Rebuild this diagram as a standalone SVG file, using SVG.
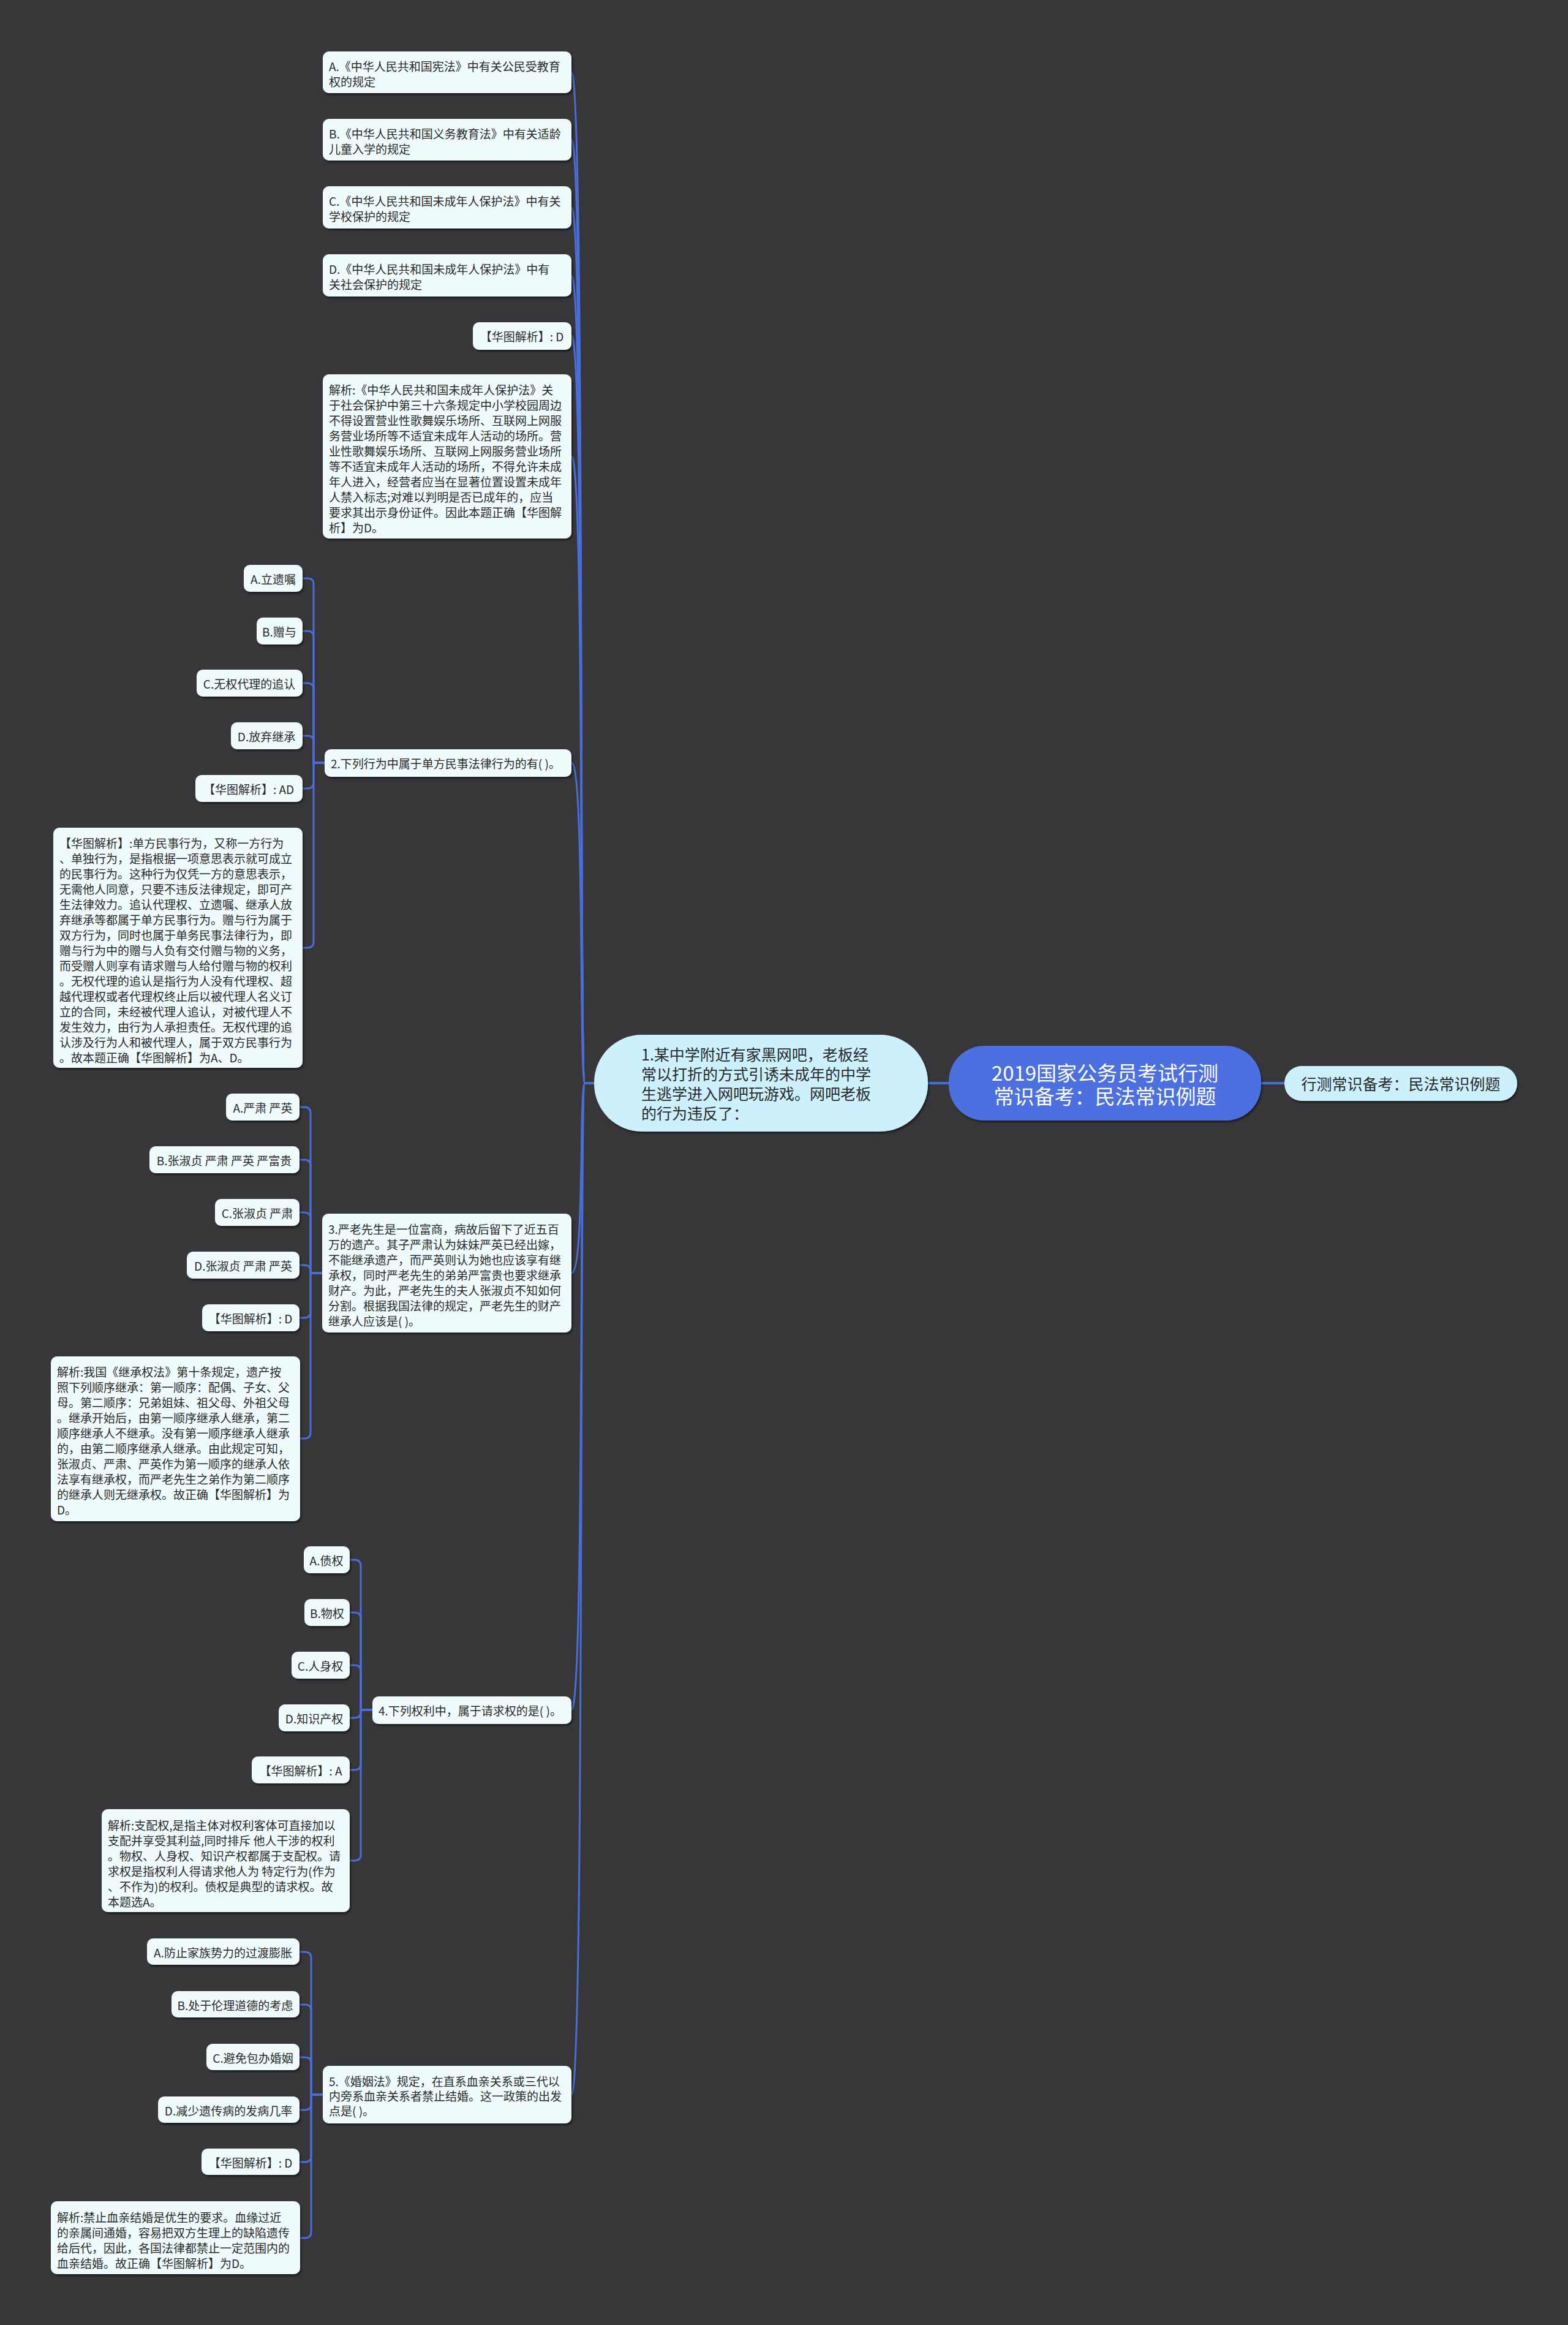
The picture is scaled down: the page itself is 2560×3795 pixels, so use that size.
<svg xmlns="http://www.w3.org/2000/svg" width="2560" height="3795" viewBox="0 0 2560 3795">
<defs>
<filter id="sh" x="-5%" y="-5%" width="110%" height="120%"><feDropShadow dx="2" dy="3" stdDeviation="1.5" flood-color="#000" flood-opacity="0.45"/></filter>
<style>
.leaf{fill:#effafc;filter:url(#sh)}
.sub{fill:#cdf0fd;filter:url(#sh)}
.root{fill:#4d6fe0;filter:url(#sh)}
.t{font-family:"Noto Sans CJK SC","Noto Sans",sans-serif;font-size:19px;fill:#2a2a2a;dominant-baseline:central}
.m{text-anchor:middle}
.big{font-size:25px}
.rt{font-size:33px;fill:#ffffff}
.c{fill:none;stroke:#4a6ddc;stroke-width:3;stroke-linecap:round}
.cm{fill:none;stroke:#4a6ddc;stroke-width:4}
</style>
</defs>
<rect width="2560" height="3795" fill="#373638"/>

<g id="connectors">
<path class="cm" d="M2059 1768 H2097"/>
<path class="cm" d="M1515 1768 H1549"/>
<path class="c" d="M970 1768 H955 C945 1768 955 118 933 118"/>
<path class="c" d="M970 1768 H955 C945 1768 955 228 933 228"/>
<path class="c" d="M970 1768 H955 C945 1768 955 339 933 339"/>
<path class="c" d="M970 1768 H955 C945 1768 955 450 933 450"/>
<path class="c" d="M970 1768 H955 C945 1768 955 548 933 548"/>
<path class="c" d="M970 1768 H955 C945 1768 955 745 933 745"/>
<path class="c" d="M970 1768 H955 C945 1768 955 1245 933 1245"/>
<path class="c" d="M970 1768 H955 C945 1768 955 2078 933 2078"/>
<path class="c" d="M970 1768 H955 C945 1768 955 2791 933 2791"/>
<path class="c" d="M970 1768 H955 C945 1768 955 3419 933 3419"/>

<path class="c" d="M530 1245 H512 V954 Q512 944 502 944 H494"/>
<path class="c" d="M530 1245 H512 V1040 Q512 1030 502 1030 H494"/>
<path class="c" d="M530 1245 H512 V1125 Q512 1115 502 1115 H494"/>
<path class="c" d="M530 1245 H512 V1211 Q512 1201 502 1201 H494"/>
<path class="c" d="M530 1245 H512 V1277 Q512 1287 502 1287 H494"/>
<path class="c" d="M530 1245 H512 V1537 Q512 1547 502 1547 H494"/>

<path class="c" d="M526 2078 H507 V1817 Q507 1807 497 1807 H489"/>
<path class="c" d="M526 2078 H507 V1903 Q507 1893 497 1893 H489"/>
<path class="c" d="M526 2078 H507 V1989 Q507 1979 497 1979 H489"/>
<path class="c" d="M526 2078 H507 V2075 Q507 2065 497 2065 H489"/>
<path class="c" d="M526 2078 H507 V2141 Q507 2151 497 2151 H489"/>
<path class="c" d="M526 2078 H507 V2338 Q507 2348 497 2348 H489"/>

<path class="c" d="M608 2791 H589 V2556 Q589 2546 579 2546 H571"/>
<path class="c" d="M608 2791 H589 V2642 Q589 2632 579 2632 H571"/>
<path class="c" d="M608 2791 H589 V2728 Q589 2718 579 2718 H571"/>
<path class="c" d="M608 2791 H589 V2794 Q589 2804 579 2804 H571"/>
<path class="c" d="M608 2791 H589 V2879 Q589 2889 579 2889 H571"/>
<path class="c" d="M608 2791 H589 V3027 Q589 3037 579 3037 H571"/>

<path class="c" d="M527 3419 H508 V3196 Q508 3186 498 3186 H489"/>
<path class="c" d="M527 3419 H508 V3282 Q508 3272 498 3272 H489"/>
<path class="c" d="M527 3419 H508 V3368 Q508 3358 498 3358 H489"/>
<path class="c" d="M527 3419 H508 V3434 Q508 3444 498 3444 H489"/>
<path class="c" d="M527 3419 H508 V3519 Q508 3529 498 3529 H489"/>
<path class="c" d="M527 3419 H508 V3643 Q508 3653 498 3653 H489"/>
</g>

<g id="root">
<rect class="root" x="1549" y="1707" width="510" height="122" rx="58"/>
<text class="t rt m" x="1804"><tspan x="1804" y="1750">2019国家公务员考试行测</tspan><tspan x="1804" y="1788">常识备考：民法常识例题</tspan></text>
</g>
<g id="topic-right">
<rect class="sub" x="2097" y="1740" width="380" height="57" rx="28"/>
<text class="t big m" x="2287" y="1768">行测常识备考：民法常识例题</text>
</g>
<g id="q1">
<rect class="sub" x="970" y="1689" width="545" height="158" rx="78"/>
<text class="t big"><tspan x="1047" y="1720">1.某中学附近有家黑网吧，老板经</tspan><tspan x="1047" y="1752">常以打折的方式引诱未成年的中学</tspan><tspan x="1047" y="1784">生逃学进入网吧玩游戏。网吧老板</tspan><tspan x="1047" y="1816">的行为违反了：</tspan></text>
</g>

<g id="q1-a">
<rect class="leaf" x="527" y="84" width="406" height="68" rx="10"/>
<text class="t"><tspan x="537" y="107">A.《中华人民共和国宪法》中有关公民受教育</tspan><tspan x="537" y="132">权的规定</tspan></text>
</g>
<g id="q1-b">
<rect class="leaf" x="527" y="194" width="406" height="68" rx="10"/>
<text class="t"><tspan x="537" y="217">B.《中华人民共和国义务教育法》中有关适龄</tspan><tspan x="537" y="242">儿童入学的规定</tspan></text>
</g>
<g id="q1-c">
<rect class="leaf" x="527" y="304" width="406" height="69" rx="10"/>
<text class="t"><tspan x="537" y="327">C.《中华人民共和国未成年人保护法》中有关</tspan><tspan x="537" y="352">学校保护的规定</tspan></text>
</g>
<g id="q1-d">
<rect class="leaf" x="527" y="415" width="406" height="69" rx="10"/>
<text class="t"><tspan x="537" y="438">D.《中华人民共和国未成年人保护法》中有</tspan><tspan x="537" y="463">关社会保护的规定</tspan></text>
</g>
<g id="q1-ans">
<rect class="leaf" x="772" y="526" width="161" height="45" rx="10"/>
<text class="t m" x="852" y="548">【华图解析】: D</text>
</g>
<g id="q1-exp">
<rect class="leaf" x="527" y="611" width="406" height="268" rx="10"/>
<text class="t"><tspan x="537" y="635">解析:《中华人民共和国未成年人保护法》关</tspan><tspan x="537" y="660">于社会保护中第三十六条规定中小学校园周边</tspan><tspan x="537" y="685">不得设置营业性歌舞娱乐场所、互联网上网服</tspan><tspan x="537" y="710">务营业场所等不适宜未成年人活动的场所。营</tspan><tspan x="537" y="735">业性歌舞娱乐场所、互联网上网服务营业场所</tspan><tspan x="537" y="760">等不适宜未成年人活动的场所，不得允许未成</tspan><tspan x="537" y="785">年人进入，经营者应当在显著位置设置未成年</tspan><tspan x="537" y="810">人禁入标志;对难以判明是否已成年的，应当</tspan><tspan x="537" y="835">要求其出示身份证件。因此本题正确【华图解</tspan><tspan x="537" y="860">析】为D。</tspan></text>
</g>

<g id="q2">
<rect class="leaf" x="530" y="1223" width="403" height="45" rx="10"/>
<text class="t" x="540" y="1245">2.下列行为中属于单方民事法律行为的有( )。</text>
</g>
<g id="q2-a"><rect class="leaf" x="398" y="922" width="96" height="44" rx="10"/><text class="t m" x="446" y="944">A.立遗嘱</text></g>
<g id="q2-b"><rect class="leaf" x="419" y="1008" width="75" height="44" rx="10"/><text class="t m" x="456" y="1030">B.赠与</text></g>
<g id="q2-c"><rect class="leaf" x="321" y="1093" width="173" height="44" rx="10"/><text class="t m" x="407" y="1115">C.无权代理的追认</text></g>
<g id="q2-d"><rect class="leaf" x="377" y="1179" width="117" height="44" rx="10"/><text class="t m" x="435" y="1201">D.放弃继承</text></g>
<g id="q2-ans"><rect class="leaf" x="319" y="1265" width="175" height="44" rx="10"/><text class="t m" x="406" y="1287">【华图解析】: AD</text></g>
<g id="q2-exp">
<rect class="leaf" x="87" y="1351" width="407" height="392" rx="10"/>
<text class="t"><tspan x="97" y="1375">【华图解析】:单方民事行为，又称一方行为</tspan><tspan x="97" y="1400">、单独行为，是指根据一项意思表示就可成立</tspan><tspan x="97" y="1425">的民事行为。这种行为仅凭一方的意思表示，</tspan><tspan x="97" y="1450">无需他人同意，只要不违反法律规定，即可产</tspan><tspan x="97" y="1475">生法律效力。追认代理权、立遗嘱、继承人放</tspan><tspan x="97" y="1500">弃继承等都属于单方民事行为。赠与行为属于</tspan><tspan x="97" y="1525">双方行为，同时也属于单务民事法律行为，即</tspan><tspan x="97" y="1550">赠与行为中的赠与人负有交付赠与物的义务，</tspan><tspan x="97" y="1575">而受赠人则享有请求赠与人给付赠与物的权利</tspan><tspan x="97" y="1600">。无权代理的追认是指行为人没有代理权、超</tspan><tspan x="97" y="1625">越代理权或者代理权终止后以被代理人名义订</tspan><tspan x="97" y="1650">立的合同，未经被代理人追认，对被代理人不</tspan><tspan x="97" y="1675">发生效力，由行为人承担责任。无权代理的追</tspan><tspan x="97" y="1700">认涉及行为人和被代理人，属于双方民事行为</tspan><tspan x="97" y="1725">。故本题正确【华图解析】为A、D。</tspan></text>
</g>

<g id="q3">
<rect class="leaf" x="526" y="1981" width="407" height="194" rx="10"/>
<text class="t"><tspan x="536" y="2005">3.严老先生是一位富商，病故后留下了近五百</tspan><tspan x="536" y="2030">万的遗产。其子严肃认为妹妹严英已经出嫁，</tspan><tspan x="536" y="2055">不能继承遗产，而严英则认为她也应该享有继</tspan><tspan x="536" y="2080">承权，同时严老先生的弟弟严富贵也要求继承</tspan><tspan x="536" y="2105">财产。为此，严老先生的夫人张淑贞不知如何</tspan><tspan x="536" y="2130">分割。根据我国法律的规定，严老先生的财产</tspan><tspan x="536" y="2155">继承人应该是( )。</tspan></text>
</g>
<g id="q3-a"><rect class="leaf" x="369" y="1785" width="120" height="44" rx="10"/><text class="t m" x="429" y="1807">A.严肃 严英</text></g>
<g id="q3-b"><rect class="leaf" x="244" y="1871" width="245" height="44" rx="10"/><text class="t m" x="366" y="1893">B.张淑贞 严肃 严英 严富贵</text></g>
<g id="q3-c"><rect class="leaf" x="351" y="1957" width="138" height="44" rx="10"/><text class="t m" x="420" y="1979">C.张淑贞 严肃</text></g>
<g id="q3-d"><rect class="leaf" x="305" y="2043" width="184" height="44" rx="10"/><text class="t m" x="397" y="2065">D.张淑贞 严肃 严英</text></g>
<g id="q3-ans"><rect class="leaf" x="330" y="2129" width="159" height="44" rx="10"/><text class="t m" x="409" y="2151">【华图解析】: D</text></g>
<g id="q3-exp">
<rect class="leaf" x="83" y="2214" width="407" height="269" rx="10"/>
<text class="t"><tspan x="93" y="2238">解析:我国《继承权法》第十条规定，遗产按</tspan><tspan x="93" y="2263">照下列顺序继承：第一顺序：配偶、子女、父</tspan><tspan x="93" y="2288">母。第二顺序：兄弟姐妹、祖父母、外祖父母</tspan><tspan x="93" y="2313">。继承开始后，由第一顺序继承人继承，第二</tspan><tspan x="93" y="2338">顺序继承人不继承。没有第一顺序继承人继承</tspan><tspan x="93" y="2363">的，由第二顺序继承人继承。由此规定可知，</tspan><tspan x="93" y="2388">张淑贞、严肃、严英作为第一顺序的继承人依</tspan><tspan x="93" y="2413">法享有继承权，而严老先生之弟作为第二顺序</tspan><tspan x="93" y="2438">的继承人则无继承权。故正确【华图解析】为</tspan><tspan x="93" y="2463">D。</tspan></text>
</g>

<g id="q4">
<rect class="leaf" x="608" y="2769" width="325" height="45" rx="10"/>
<text class="t" x="618" y="2791">4.下列权利中，属于请求权的是( )。</text>
</g>
<g id="q4-a"><rect class="leaf" x="496" y="2524" width="75" height="44" rx="10"/><text class="t m" x="533" y="2546">A.债权</text></g>
<g id="q4-b"><rect class="leaf" x="497" y="2610" width="74" height="44" rx="10"/><text class="t m" x="534" y="2632">B.物权</text></g>
<g id="q4-c"><rect class="leaf" x="476" y="2696" width="95" height="44" rx="10"/><text class="t m" x="523" y="2718">C.人身权</text></g>
<g id="q4-d"><rect class="leaf" x="455" y="2782" width="116" height="44" rx="10"/><text class="t m" x="513" y="2804">D.知识产权</text></g>
<g id="q4-ans"><rect class="leaf" x="411" y="2867" width="160" height="44" rx="10"/><text class="t m" x="491" y="2889">【华图解析】: A</text></g>
<g id="q4-exp">
<rect class="leaf" x="166" y="2953" width="405" height="168" rx="10"/>
<text class="t"><tspan x="176" y="2978">解析:支配权,是指主体对权利客体可直接加以</tspan><tspan x="176" y="3003">支配并享受其利益,同时排斥 他人干涉的权利</tspan><tspan x="176" y="3028">。物权、人身权、知识产权都属于支配权。请</tspan><tspan x="176" y="3053">求权是指权利人得请求他人为 特定行为(作为</tspan><tspan x="176" y="3078">、不作为)的权利。债权是典型的请求权。故</tspan><tspan x="176" y="3103">本题选A。</tspan></text>
</g>

<g id="q5">
<rect class="leaf" x="527" y="3372" width="406" height="94" rx="10"/>
<text class="t"><tspan x="537" y="3396">5.《婚姻法》规定，在直系血亲关系或三代以</tspan><tspan x="537" y="3420">内旁系血亲关系者禁止结婚。这一政策的出发</tspan><tspan x="537" y="3444">点是( )。</tspan></text>
</g>
<g id="q5-a"><rect class="leaf" x="240" y="3164" width="249" height="43" rx="10"/><text class="t m" x="364" y="3186">A.防止家族势力的过渡膨胀</text></g>
<g id="q5-b"><rect class="leaf" x="280" y="3250" width="209" height="43" rx="10"/><text class="t m" x="384" y="3272">B.处于伦理道德的考虑</text></g>
<g id="q5-c"><rect class="leaf" x="337" y="3336" width="152" height="43" rx="10"/><text class="t m" x="413" y="3358">C.避免包办婚姻</text></g>
<g id="q5-d"><rect class="leaf" x="258" y="3422" width="231" height="43" rx="10"/><text class="t m" x="373" y="3444">D.减少遗传病的发病几率</text></g>
<g id="q5-ans"><rect class="leaf" x="329" y="3507" width="160" height="43" rx="10"/><text class="t m" x="409" y="3529">【华图解析】: D</text></g>
<g id="q5-exp">
<rect class="leaf" x="83" y="3593" width="407" height="119" rx="10"/>
<text class="t"><tspan x="93" y="3618">解析:禁止血亲结婚是优生的要求。血缘过近</tspan><tspan x="93" y="3643">的亲属间通婚，容易把双方生理上的缺陷遗传</tspan><tspan x="93" y="3668">给后代，因此，各国法律都禁止一定范围内的</tspan><tspan x="93" y="3693">血亲结婚。故正确【华图解析】为D。</tspan></text>
</g>
</svg>
